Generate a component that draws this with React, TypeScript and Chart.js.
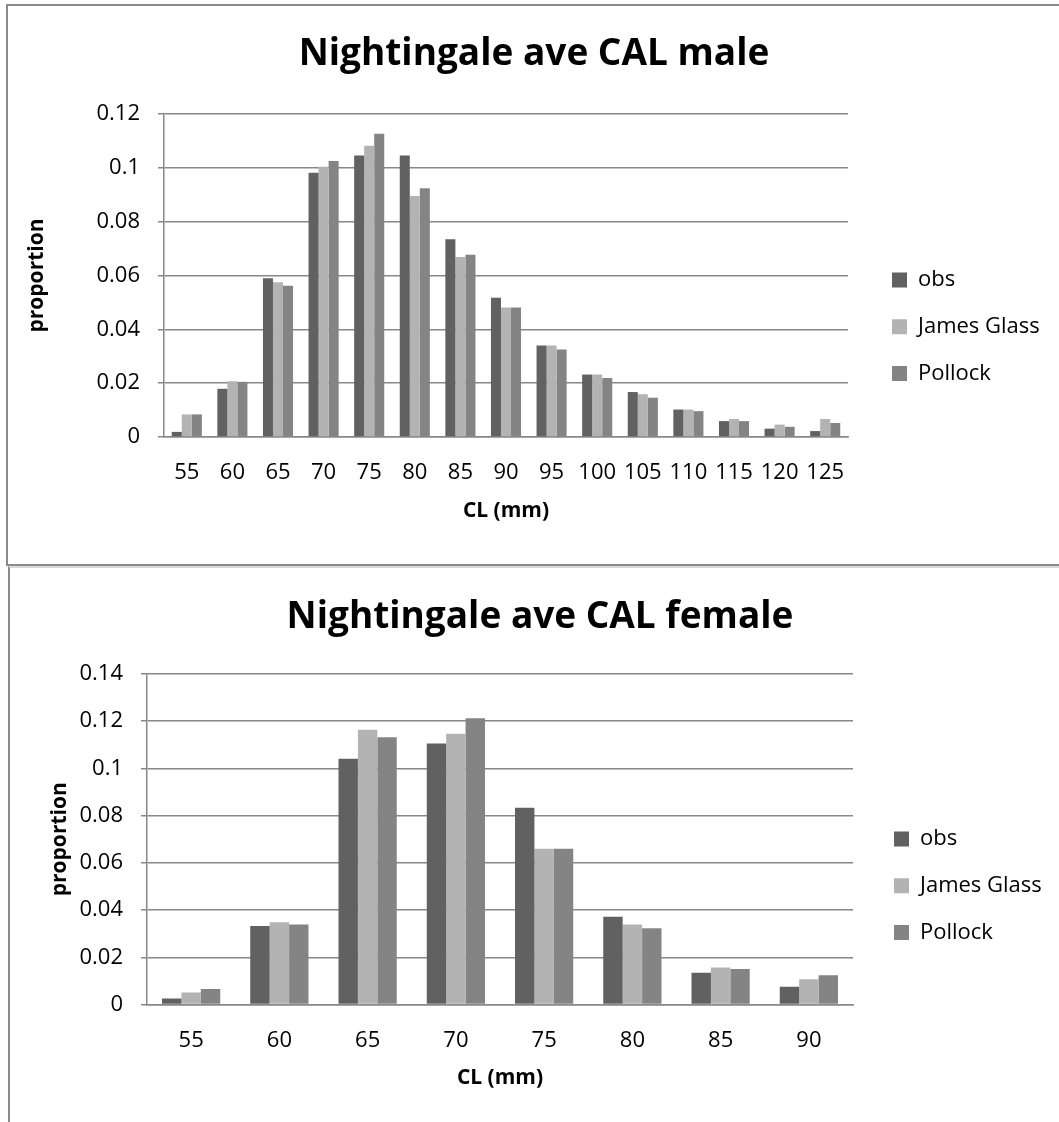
import { useEffect, useRef } from "react";
import { Chart, registerables } from "chart.js";

Chart.register(...registerables);

// --- data ---
const seriesNames = ["obs", "James Glass", "Pollock"];
const seriesColors = ["#616161", "#b3b3b3", "#848484"];

const maleLengths = ["55", "60", "65", "70", "75", "80", "85", "90", "95", "100", "105", "110", "115", "120", "125"];
const maleObs = [0.0019, 0.0179, 0.059, 0.0982, 0.1046, 0.1046, 0.0735, 0.0517, 0.034, 0.0232, 0.0167, 0.0102, 0.0059, 0.0031, 0.0022];
const maleJamesGlass = [0.0084, 0.0207, 0.0575, 0.1004, 0.1082, 0.0895, 0.0669, 0.0481, 0.034, 0.0232, 0.0159, 0.0102, 0.0067, 0.0046, 0.0067];
const malePollock = [0.0084, 0.0205, 0.0562, 0.1025, 0.1127, 0.0924, 0.0677, 0.0481, 0.0325, 0.0219, 0.0146, 0.0096, 0.0059, 0.0038, 0.0052];
const maleYTicks = ["0", "0.02", "0.04", "0.06", "0.08", "0.1", "0.12"];

const femaleLengths = ["55", "60", "65", "70", "75", "80", "85", "90"];
const femaleObs = [0.0025, 0.0332, 0.1041, 0.1106, 0.0833, 0.0372, 0.0134, 0.0075];
const femaleJamesGlass = [0.0051, 0.0348, 0.1164, 0.1147, 0.066, 0.0339, 0.0157, 0.0107];
const femalePollock = [0.0066, 0.0339, 0.1132, 0.1213, 0.066, 0.0323, 0.015, 0.0124];
const femaleYTicks = ["0", "0.02", "0.04", "0.06", "0.08", "0.1", "0.12", "0.14"];

const FONT = "'Open Sans', 'Noto Sans', sans-serif";
const GRID = "#888888";
const LEGEND_SIZE = 22;
const LEGEND_BOX = 15;
const LEGEND_PAD = 24.7;

// moves the legend block after layout (Excel puts it lower and further right)
const legendNudge = {
  id: "legendNudge",
  afterLayout(chart: any, _args: any, opts: any) {
    const l = chart.legend;
    if (!l) return;
    l.left += opts.dx;
    l.right += opts.dx;
    l.top += opts.dy;
    l.bottom += opts.dy;
  },
};

type Layout = {
  plotL: number;
  plotR: number;
  yTitleX: number;
  titleX: number;
  boxX: number;
  xHeight: number;
  xTickPad: number;
  xTitlePadBottom: number;
  titlePadTop: number;
  titlePadBottom: number;
  dy: number;
};

function BarChart(props: {
  width: number;
  height: number;
  title: string;
  labels: string[];
  series: number[][];
  yMax: number;
  yTicks: string[];
  lay: Layout;
}) {
  const canvasRef = useRef<HTMLCanvasElement | null>(null);
  const { width, height, title, labels, series, yMax, yTicks, lay } = props;

  useEffect(() => {
    if (!canvasRef.current) return;
    const ctx = canvasRef.current.getContext("2d");
    if (!ctx) return;

    // legend width as chart.js works it out, so the plot edge can be placed
    ctx.font = `${LEGEND_SIZE}px ${FONT}`;
    const textW = Math.max(...seriesNames.map((n) => ctx.measureText(n).width));
    const legendW = LEGEND_PAD + LEGEND_BOX + LEGEND_SIZE / 2 + textW + 10;
    const padR = width - lay.plotR - legendW;
    const padL = 2 * lay.titleX - width + padR;
    const yWidth = lay.plotL - padL;
    const yTitlePad = lay.yTitleX - padL - 12.6;
    const dx = lay.boxX - lay.plotR - LEGEND_PAD;

    const chart = new Chart(ctx, {
      type: "bar",
      data: {
        labels,
        datasets: series.map((values, i) => ({
          label: seriesNames[i],
          data: values,
          backgroundColor: seriesColors[i],
          borderWidth: 0,
          categoryPercentage: 0.66,
          barPercentage: 1,
        })),
      },
      options: {
        animation: false,
        responsive: false,
        devicePixelRatio: 1,
        layout: { padding: { left: padL, right: padR, top: 0, bottom: 0 } },
        plugins: {
          title: {
            display: true,
            text: title,
            color: "#000",
            font: { family: FONT, size: 37, weight: "bold" },
            padding: { top: lay.titlePadTop, bottom: lay.titlePadBottom },
          },
          legend: {
            position: "right",
            fullSize: false,
            labels: {
              color: "#000",
              font: { family: FONT, size: LEGEND_SIZE },
              boxWidth: LEGEND_BOX,
              boxHeight: LEGEND_BOX,
              padding: LEGEND_PAD,
            },
          },
          tooltip: { enabled: false },
          legendNudge: { dx, dy: lay.dy },
        } as any,
        scales: {
          x: {
            grid: { display: false, drawTicks: false },
            border: { display: true, color: GRID, width: 1.5 },
            ticks: { color: "#000", font: { family: FONT, size: 22 }, padding: lay.xTickPad, maxRotation: 0, autoSkip: false },
            title: {
              display: true,
              text: "CL (mm)",
              color: "#000",
              font: { family: FONT, size: 21, weight: "bold" },
              padding: { top: 0, bottom: lay.xTitlePadBottom },
            },
            afterFit: (s: any) => {
              s.height = lay.xHeight;
            },
          },
          y: {
            min: 0,
            max: yMax,
            ticks: {
              stepSize: 0.02,
              color: "#000",
              font: { family: FONT, size: 22 },
              padding: 18,
              callback: (_v: any, i: number) => yTicks[i],
            },
            grid: { color: GRID, lineWidth: 1.5, tickLength: 6, drawTicks: true },
            border: { display: true, color: GRID, width: 1.5 },
            title: {
              display: true,
              text: "proportion",
              color: "#000",
              font: { family: FONT, size: 21, weight: "bold" },
              padding: { top: yTitlePad, bottom: 0 },
            },
            afterFit: (s: any) => {
              s.width = yWidth;
            },
          },
        },
      },
      plugins: [legendNudge],
    });
    return () => chart.destroy();
  }, []);

  return <canvas ref={canvasRef} width={width} height={height} style={{ display: "block" }} />;
}

export default function App() {
  useEffect(() => {
    document.body.style.margin = "0";
  }, []);

  return (
    <div style={{ position: "relative", width: 1059, height: 1122, overflow: "hidden", background: "#fff" }}>
      <div
        style={{
          position: "absolute",
          left: 6,
          top: 4,
          width: 1100,
          height: 558,
          border: "2px solid #8a8a8a",
          background: "#fff",
        }}
      >
        <BarChart
          width={1051}
          height={558}
          title="Nightingale ave CAL male"
          labels={maleLengths}
          series={[maleObs, maleJamesGlass, malePollock]}
          yMax={0.12}
          yTicks={maleYTicks}
          lay={{
            plotL: 156,
            plotR: 840,
            yTitleX: 29,
            titleX: 526,
            boxX: 884,
            xHeight: 127,
            xTickPad: 22.3,
            xTitlePadBottom: 40.4,
            titlePadTop: 26.3,
            titlePadBottom: 37.3,
            dy: 51.2,
          }}
        />
      </div>
      <div
        style={{
          position: "absolute",
          left: 8,
          top: 566,
          width: 1100,
          height: 600,
          borderLeft: "2px solid #8a8a8a",
          borderTop: "2px solid #dadada",
          background: "#fff",
        }}
      >
        <BarChart
          width={1049}
          height={558}
          title="Nightingale ave CAL female"
          labels={femaleLengths}
          series={[femaleObs, femaleJamesGlass, femalePollock]}
          yMax={0.14}
          yTicks={femaleYTicks}
          lay={{
            plotL: 137,
            plotR: 843,
            yTitleX: 50,
            titleX: 530,
            boxX: 884,
            xHeight: 121.5,
            xTickPad: 22.8,
            xTitlePadBottom: 34.9,
            titlePadTop: 26.8,
            titlePadBottom: 34.8,
            dy: 46.45,
          }}
        />
      </div>
    </div>
  );
}
